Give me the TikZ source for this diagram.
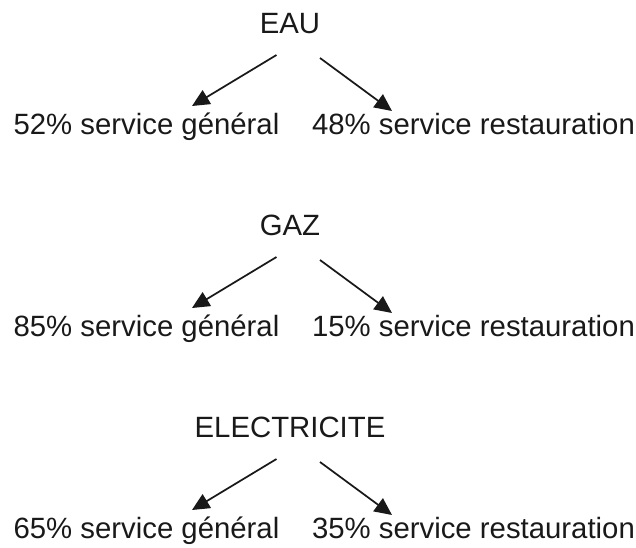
\documentclass[tikz,border=0pt]{standalone}
\usepackage{fontspec}
\setmainfont{Liberation Sans}
\usetikzlibrary{arrows.meta}
\begin{document}
\begin{tikzpicture}[x=0.75pt,y=-0.75pt,
  lbl/.style={anchor=base,inner sep=0pt,font=\fontsize{22pt}{26pt}\selectfont,text=black!90},
  arr/.style={line width=1.3pt,draw=black!90,-{Triangle[length=13pt,width=12pt]}}]
\useasboundingbox (0,0) rectangle (636,547);
\foreach \name/\title/\pa/\pb/\y in {eau/EAU/52/48/0,gaz/GAZ/85/15/202,ele/ELECTRICITE/65/35/404}{
  \node[lbl] (\name) at (290,33+\y) {\title};
  \node[lbl] (\name g) at (146.5,134+\y) {\pa\% service général};
  \node[lbl] (\name r) at (473.5,134+\y) {\pb\% service restauration};
  \coordinate (\name a) at (276.5,55+\y);
  \coordinate (\name at) at (192,106+\y);
  \coordinate (\name b) at (320,58+\y);
  \coordinate (\name bt) at (392,111+\y);
  \draw[arr] (\name a) -- (\name at);
  \draw[arr] (\name b) -- (\name bt);
}
\end{tikzpicture}
\end{document}
